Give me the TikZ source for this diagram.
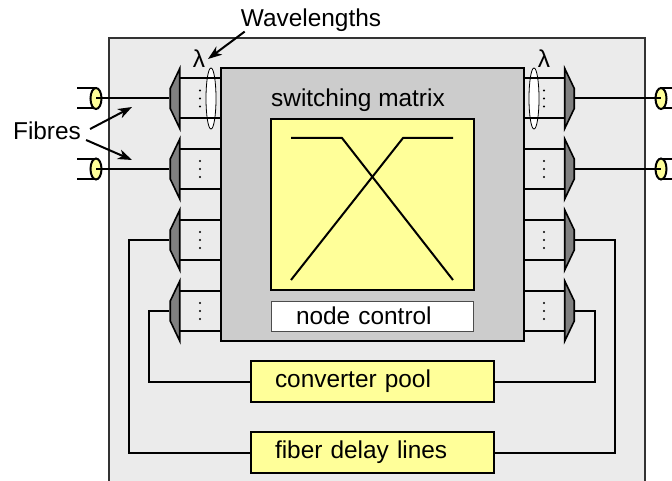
\documentclass[tikz,border=0pt]{standalone}
\usepackage{fontspec}
\setmainfont{Liberation Sans}
\usetikzlibrary{positioning,calc,arrows.meta,shapes.geometric}
\definecolor{boardgrey}{HTML}{EBEBEB}
\definecolor{matrixgrey}{HTML}{CCCCCC}
\definecolor{demuxgrey}{HTML}{808080}
\definecolor{paleyellow}{HTML}{FFFF99}

\begin{document}
\begin{tikzpicture}[x=1pt, y=-1pt]
	\useasboundingbox (0, 0) rectangle (672, 481);
	\clip (0, 0) rectangle (672, 481);
	\begin{scope}
		\tikzstyle{every node}=[inner sep=0pt, font=\fontsize{24.4}{26}\selectfont]
		\tikzstyle{wire}=[line width=2pt]
		\tikzstyle{pointer}=[line width=2pt, -{Stealth[length=14pt, width=10pt, inset=4pt]}]
		\tikzstyle{demuxleft}=[draw, line width=1.6pt, fill=demuxgrey, shape=trapezium, inner sep=1pt, trapezium stretches=true, trapezium angle=45, shape border rotate=90, minimum width=60pt, minimum height=9.5pt]
		\tikzstyle{demuxright}=[demuxleft, shape border rotate=270]
		\tikzstyle{fibreend}=[draw, line width=2pt, fill=paleyellow, shape=ellipse, minimum width=11pt, minimum height=21pt]
		\tikzstyle{bundle}=[draw, line width=0.8pt, fill=white, shape=ellipse, minimum width=10pt, minimum height=61pt]
		\tikzstyle{portdot}=[fill=black, shape=circle, minimum size=2.4pt]
		\tikzstyle{yellowbox}=[draw, line width=2pt, fill=paleyellow, align=left, text width=195pt, inner xsep=24pt, minimum height=41pt]

		\fill [boardgrey] (109, 38) rectangle (645, 490);
		\node (board) at (377, 264) [minimum width=536pt, minimum height=452pt] {};
		\draw [line width=1.5pt, black!80] (board.south west) -- (board.north west) -- (board.north east) -- (board.south east);

		\node (wave) at (311, 20) {Wavelengths};
		\node (fibres) at (47, 131) {Fibres};
		\node (lamleft) at (199, 59) {λ};
		\node (lamright) at (544, 59) {λ};

		\node (sm) at (372.5, 204.5) [draw, line width=2pt, fill=matrixgrey, minimum width=303pt, minimum height=273pt] {};
		\node (smtitle) at (358, 100) {switching matrix};
		\node (fabric) at (372.5, 204.5) [draw, line width=2pt, fill=paleyellow, minimum width=203pt, minimum height=171pt] {};
		\node (ctrl) at (372, 316) [draw, line width=1pt, black!70, fill=white, text=black, align=left, text width=152pt, inner xsep=25pt, minimum height=30pt] {node control};
		\node (conv) at (372.5, 381.5) [yellowbox] {converter pool};
		\node (delay) at (372.5, 452.5) [yellowbox] {fiber delay lines};

		\node (bundleleft) at (211, 98.5) [bundle] {};
		\node (bundleright) at (534, 98.5) [bundle] {};

		\foreach \n/\y in {1/98.5, 2/169, 3/240, 4/311} {
			\coordinate (upl\n) at (180, \y-20);
			\coordinate (lol\n) at (180, \y+20);
			\coordinate (upr\n) at (564, \y-20);
			\coordinate (lor\n) at (564, \y+20);
			\draw [wire] (upl\n) to (upl\n -| sm.west);
			\draw [wire] (lol\n) to (lol\n -| sm.west);
			\draw [wire] (upr\n) to (upr\n -| sm.east);
			\draw [wire] (lor\n) to (lor\n -| sm.east);
			\node (dl\n) at (175, \y) [demuxleft] {};
			\node (dr\n) at (569.5, \y) [demuxright] {};
			\foreach \k in {-8, 0, 8} {
				\node at (200, \y+\k) [portdot] {};
				\node at (544, \y+\k) [portdot] {};
			}
		}

		\foreach \n/\y in {1/98.5, 2/169} {
			\coordinate (tubeal\n) at (77, \y-10);
			\coordinate (tubebl\n) at (77, \y+10);
			\coordinate (tubear\n) at (672, \y-10);
			\coordinate (tubebr\n) at (672, \y+10);
			\node (fl\n) at (96, \y) [minimum width=11pt, minimum height=21pt, shape=ellipse] {};
			\node (fr\n) at (661, \y) [minimum width=11pt, minimum height=21pt, shape=ellipse] {};
			\draw [wire] (tubeal\n) to (tubeal\n -| fl\n.center);
			\draw [wire] (tubebl\n) to (tubebl\n -| fl\n.center);
			\draw [wire] (tubear\n) to (tubear\n -| fr\n.center);
			\draw [wire] (tubebr\n) to (tubebr\n -| fr\n.center);
			\node at (fl\n) [fibreend] {};
			\node at (fr\n) [fibreend] {};
			\draw [wire] (fl\n.center) to (dl\n.west);
			\draw [wire] (dr\n.east) to (fr\n.center);
		}

		\draw [wire] (dl3.west) -- ++(-40, 0) |- (delay.west);
		\draw [wire] (dl4.west) -- ++(-20, 0) |- (conv.west);
		\draw [wire] (dr3.east) -- ++(40, 0) |- (delay.east);
		\draw [wire] (dr4.east) -- ++(20, 0) |- (conv.east);

		\draw [wire] (291, 138) coordinate (ina) -- (342, 138) coordinate (bendb) -- (453, 280) coordinate (outb);
		\draw [wire] (291, 280) coordinate (inb) -- (403, 138) coordinate (benda) -- (453, 138) coordinate (outa);

		\coordinate (arrowlam) at (208, 59);
		\coordinate (arrowfa) at (132, 107);
		\coordinate (arrowfb) at (132, 160);
		\draw [pointer] ([xshift=4pt]wave.south west) to (arrowlam);
		\draw [pointer] ([xshift=9pt, yshift=2pt]fibres.east) to (arrowfa);
		\draw [pointer] ([xshift=5pt, yshift=-9pt]fibres.east) to (arrowfb);
	\end{scope}
\end{tikzpicture}
\end{document}
